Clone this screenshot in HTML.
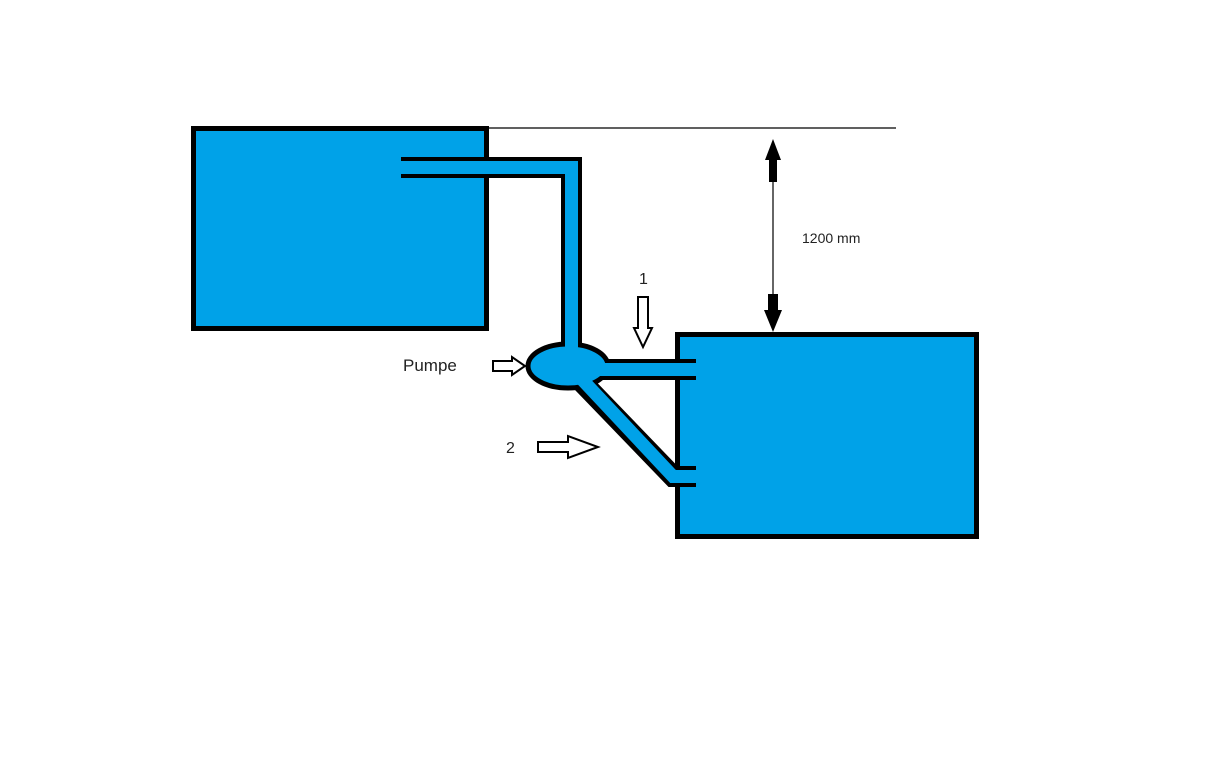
<!DOCTYPE html>
<html><head><style>body{margin:0;background:#fff}svg{display:block}</style></head>
<body>
<svg width="1219" height="765" viewBox="0 0 1219 765" xmlns="http://www.w3.org/2000/svg" font-family="Liberation Sans, sans-serif">
<rect x="0" y="0" width="1219" height="765" fill="#fff"/>
<!-- tanks -->
<rect x="193.5" y="128.5" width="293" height="200" fill="#00A2E8" stroke="#000" stroke-width="5"/>
<rect x="677.5" y="334.5" width="299" height="202" fill="#00A2E8" stroke="#000" stroke-width="5"/>
<!-- level line -->
<line x1="488" y1="128" x2="896" y2="128" stroke="#000" stroke-width="1.2"/>
<!-- pipes black -->
<g fill="none" stroke="#000" stroke-width="21" stroke-linejoin="miter">
<polyline points="401,167.5 571.5,167.5 571.5,360"/>
<polyline points="590,369.5 696,369.5"/>
<polyline points="578,378 673,476.5 696,476.5"/>
</g>
<ellipse cx="568" cy="366" rx="40" ry="22" fill="#00A2E8" stroke="#000" stroke-width="5"/>
<g fill="none" stroke="#00A2E8" stroke-width="13" stroke-linejoin="miter">
<polyline points="399,167.5 571.5,167.5 571.5,362"/>
<polyline points="585,369.5 698,369.5"/>
<polyline points="575,372 673,476.5 698,476.5"/>
</g>
<!-- dimension -->
<line x1="773" y1="145" x2="773" y2="325" stroke="#000" stroke-width="1.2"/>
<polygon points="773,139 765,160 769,160 769,182 777,182 777,160 781,160" fill="#000"/>
<polygon points="773,332 764,310 768,310 768,294 778,294 778,310 782,310" fill="#000"/>
<text x="802" y="243" font-size="14" fill="#222">1200 mm</text>
<!-- hollow arrows -->
<polygon points="638,297 648,297 648,328 652,328 643,347 634,328 638,328" fill="#fff" stroke="#000" stroke-width="2"/>
<polygon points="493,361 512,361 512,357 525,366 512,375 512,371 493,371" fill="#fff" stroke="#000" stroke-width="2"/>
<polygon points="538,442 568,442 568,436 598,447 568,458 568,452 538,452" fill="#fff" stroke="#000" stroke-width="2"/>
<text x="403" y="371" font-size="17" fill="#222">Pumpe</text>
<text x="639" y="284" font-size="16" fill="#222">1</text>
<text x="506" y="453" font-size="16" fill="#222">2</text>
</svg>
</body></html>
